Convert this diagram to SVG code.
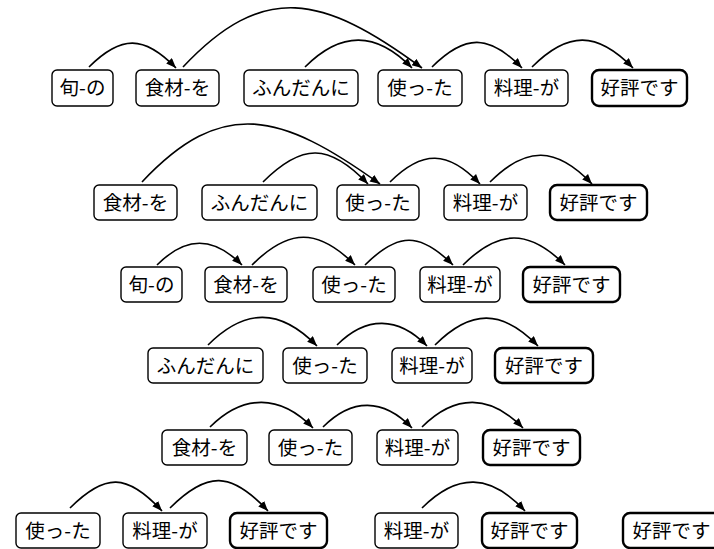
<svg xmlns="http://www.w3.org/2000/svg" width="714" height="549" viewBox="0 0 714 549">
<defs>
<style>
.b{fill:#fff;stroke:#000;stroke-width:1.4}
.h{fill:#fff;stroke:#000;stroke-width:2.4}
text{font-family:"Noto Sans CJK JP","Noto Sans CJK SC",sans-serif;font-size:19.5px;fill:#000;text-anchor:middle}
.e{fill:none;stroke:#000;stroke-width:1.6;marker-end:url(#a)}
</style>
<marker id="a" markerUnits="userSpaceOnUse" markerWidth="12" markerHeight="9" refX="10" refY="4" orient="auto">
<path d="M0,0 L10,4 L0,8 Z" fill="#000"/>
</marker>
</defs>
<rect width="714" height="549" fill="#fff"/>

<g id="edges">
<path class="e" d="M89,67 C121,35 144,35 176,68"/>
<path class="e" d="M183,67 C263,-18 322,-6 422,68"/>
<path class="e" d="M305,67 C341,31 376,31 412,68"/>
<path class="e" d="M432,67 C465,34 489,34 522,68"/>
<path class="e" d="M532,67 C568,31 597,31 633,68"/>

<path class="e" d="M142,182 C222,97 280,112 380,184"/>
<path class="e" d="M263,182 C302,143 329,143 368,184"/>
<path class="e" d="M390,182 C422,150 448,150 480,184"/>
<path class="e" d="M490,182 C526,146 556,146 592,184"/>

<path class="e" d="M157,265 C186,236 213,236 242,265"/>
<path class="e" d="M252,265 C289,228 318,228 355,265"/>
<path class="e" d="M365,265 C398,232 420,232 453,265"/>
<path class="e" d="M463,265 C499,229 529,229 565,265"/>

<path class="e" d="M208,345 C245,308 280,308 317,346"/>
<path class="e" d="M337,345 C366,316 398,316 427,346"/>
<path class="e" d="M435,345 C471,309 502,309 538,346"/>

<path class="e" d="M210,427 C243,394 280,394 313,428"/>
<path class="e" d="M323,427 C352,398 383,398 412,428"/>
<path class="e" d="M422,427 C455,394 490,394 523,428"/>

<path class="e" d="M70,508 C105,473 127,473 162,511"/>
<path class="e" d="M170,508 C207,471 231,471 268,511"/>
<path class="e" d="M422,508 C457,473 490,473 525,511"/>
</g>

<g id="r1n1"><rect class="b" x="52" y="70" width="61" height="36" rx="5"/><text x="82.5" y="95">旬-の</text></g>
<g id="r1n2"><rect class="b" x="136" y="70" width="83" height="36" rx="5"/><text x="177.5" y="95">食材-を</text></g>
<g id="r1n3"><rect class="b" x="244" y="70" width="114" height="36" rx="5"/><text x="301" y="95">ふんだんに</text></g>
<g id="r1n4"><rect class="b" x="378" y="70" width="84" height="36" rx="5"/><text x="420" y="95">使っ-た</text></g>
<g id="r1n5"><rect class="b" x="485" y="70" width="83" height="36" rx="5"/><text x="526.5" y="95">料理-が</text></g>
<g id="r1n6"><rect class="h" x="592" y="70" width="95" height="36" rx="7"/><text x="639.5" y="95">好評です</text></g>

<g id="r2n1"><rect class="b" x="94" y="185" width="83" height="35" rx="5"/><text x="135.5" y="209.5">食材-を</text></g>
<g id="r2n2"><rect class="b" x="202" y="185" width="115" height="35" rx="5"/><text x="259.5" y="209.5">ふんだんに</text></g>
<g id="r2n3"><rect class="b" x="337" y="185" width="82" height="35" rx="5"/><text x="378" y="209.5">使っ-た</text></g>
<g id="r2n4"><rect class="b" x="444" y="185" width="83" height="35" rx="5"/><text x="485.5" y="209.5">料理-が</text></g>
<g id="r2n5"><rect class="h" x="550" y="185" width="97" height="35" rx="7"/><text x="598.5" y="209.5">好評です</text></g>

<g id="r3n1"><rect class="b" x="121" y="267" width="61" height="35" rx="5"/><text x="151.5" y="291.5">旬-の</text></g>
<g id="r3n2"><rect class="b" x="205" y="267" width="82" height="35" rx="5"/><text x="246" y="291.5">食材-を</text></g>
<g id="r3n3"><rect class="b" x="313" y="267" width="82" height="35" rx="5"/><text x="354" y="291.5">使っ-た</text></g>
<g id="r3n4"><rect class="b" x="420" y="267" width="80" height="35" rx="5"/><text x="460" y="291.5">料理-が</text></g>
<g id="r3n5"><rect class="h" x="523" y="267" width="97" height="35" rx="7"/><text x="571.5" y="291.5">好評です</text></g>

<g id="r4n1"><rect class="b" x="148" y="348" width="115" height="35" rx="5"/><text x="205.5" y="372.5">ふんだんに</text></g>
<g id="r4n2"><rect class="b" x="283" y="348" width="84" height="35" rx="5"/><text x="325" y="372.5">使っ-た</text></g>
<g id="r4n3"><rect class="b" x="392" y="348" width="80" height="35" rx="5"/><text x="432" y="372.5">料理-が</text></g>
<g id="r4n4"><rect class="h" x="495" y="348" width="98" height="35" rx="7"/><text x="544" y="372.5">好評です</text></g>

<g id="r5n1"><rect class="b" x="162" y="430" width="85" height="35" rx="5"/><text x="204.5" y="454.5">食材-を</text></g>
<g id="r5n2"><rect class="b" x="269" y="430" width="83" height="35" rx="5"/><text x="310.5" y="454.5">使っ-た</text></g>
<g id="r5n3"><rect class="b" x="377" y="430" width="81" height="35" rx="5"/><text x="417.5" y="454.5">料理-が</text></g>
<g id="r5n4"><rect class="h" x="483" y="430" width="97" height="35" rx="7"/><text x="531.5" y="454.5">好評です</text></g>

<g id="r6n1"><rect class="b" x="16" y="513" width="84" height="35" rx="5"/><text x="58" y="537.5">使っ-た</text></g>
<g id="r6n2"><rect class="b" x="123" y="513" width="84" height="35" rx="5"/><text x="165" y="537.5">料理-が</text></g>
<g id="r6n3"><rect class="h" x="230" y="513" width="97" height="35" rx="7"/><text x="278.5" y="537.5">好評です</text></g>
<g id="r6n4"><rect class="b" x="375" y="513" width="83" height="35" rx="5"/><text x="416.5" y="537.5">料理-が</text></g>
<g id="r6n5"><rect class="h" x="482" y="513" width="95" height="35" rx="7"/><text x="529.5" y="537.5">好評です</text></g>
<g id="r6n6"><rect class="h" x="623" y="513" width="97" height="35" rx="7"/><text x="671.5" y="537.5">好評です</text></g>
</svg>
